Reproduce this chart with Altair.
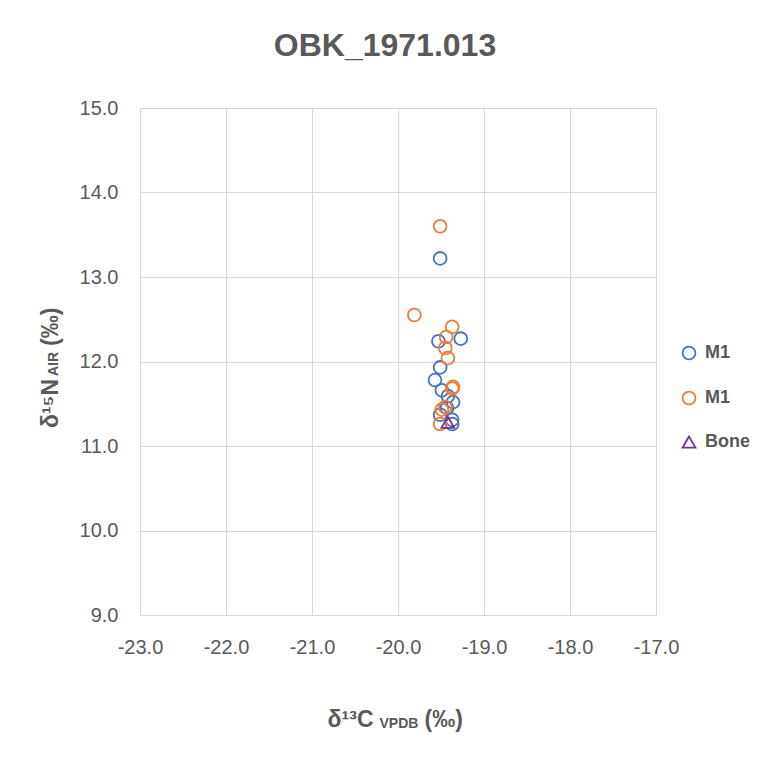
import altair as alt
import pandas as pd

# ---- data ----
m1_blue_x = [-19.51, -19.53, -19.27, -19.51, -19.57, -19.49, -19.42, -19.36, -19.43, -19.51, -19.37, -19.37]
m1_blue_y = [13.22, 12.24, 12.27, 11.93, 11.78, 11.66, 11.59, 11.52, 11.45, 11.37, 11.31, 11.26]
m1_orange_x = [-19.51, -19.81, -19.37, -19.44, -19.45, -19.42, -19.36, -19.37, -19.45, -19.49, -19.51]
m1_orange_y = [13.60, 12.55, 12.41, 12.29, 12.16, 12.04, 11.70, 11.68, 11.46, 11.43, 11.26]
bone_x = [-19.42]
bone_y = [11.28]

series_names = ["M1", "M1 ", "Bone"]
series_colors = ["#4472C4", "#ED7D31", "#7030A0"]
series_shapes = ["circle", "circle", "triangle-up"]
x_ticks = [-23, -22, -21, -20, -19, -18, -17]
y_ticks = [9, 10, 11, 12, 13, 14, 15]

rows = []
for xs, ys, name in [(m1_blue_x, m1_blue_y, series_names[0]),
                     (m1_orange_x, m1_orange_y, series_names[1]),
                     (bone_x, bone_y, series_names[2])]:
    for a, b in zip(xs, ys):
        rows.append({"d13C": a, "d15N": b, "series": name})
df = pd.DataFrame(rows)

FONT = "Liberation Sans"
GRAY = "#595959"
GRID = "#D9D9D9"

points = alt.Chart(df).mark_point(filled=False, size=165, strokeWidth=1.8, opacity=1).encode(
    x=alt.X("d13C:Q",
            scale=alt.Scale(domain=[-23, -17], nice=False, zero=False),
            axis=alt.Axis(values=x_ticks, title=None, grid=True, gridColor=GRID,
                          domainColor=GRID, ticks=False, labelFont=FONT, labelFontSize=20,
                          labelColor=GRAY, labelPadding=22, labelFlush=False,
                          labelOverlap=False,
                          labelExpr="replace(format(datum.value, '.1f'), '\u2212', '-')")),
    y=alt.Y("d15N:Q",
            scale=alt.Scale(domain=[9, 15], nice=False, zero=False),
            axis=alt.Axis(values=y_ticks, title=None, grid=True, gridColor=GRID,
                          domainColor=GRID, ticks=False, labelFont=FONT, labelFontSize=20,
                          labelColor=GRAY, labelPadding=22, format=".1f",
                          labelFlush=False, labelOverlap=False)),
    color=alt.Color("series:N", scale=alt.Scale(domain=series_names, range=series_colors),
                    legend=alt.Legend(title=None, orient="none", legendX=540, legendY=236,
                                      labelFont=FONT, labelFontSize=18, labelFontWeight="bold",
                                      labelColor=GRAY, symbolSize=165, symbolStrokeWidth=1.8,
                                      rowPadding=23, labelOffset=7)),
    shape=alt.Shape("series:N", scale=alt.Scale(domain=series_names, range=series_shapes)),
)

one = alt.Data(values=[{}])

def txt(text, x, y, size, align="left", angle=0):
    return alt.Chart(one).mark_text(text=text, font=FONT, fontSize=size, fontWeight="bold",
                                    color=GRAY, align=align, baseline="alphabetic",
                                    angle=angle).encode(x=alt.value(x), y=alt.value(y))

x_title = [
    txt("δ¹³C", 233.5, 619, 23, align="right"),
    txt("VPDB", 239.5, 620, 14),
    txt("(‰)", 284.5, 619, 23),
]
y_title = [
    txt("δ¹⁵N", -82, 320, 23, angle=270),
    txt("AIR", -82, 268, 14, angle=270),
    txt("(‰)", -82, 238, 23, angle=270),
]

chart = alt.layer(points, *x_title, *y_title).properties(
    width=516, height=507,
    title=alt.TitleParams("OBK_1971.013", font=FONT, fontSize=32, fontWeight="bold",
                          color=GRAY, anchor="middle", dx=-13, offset=35),
    autosize=alt.AutoSizeParams(type="none"),
    padding={"left": 132, "top": 100, "right": 100, "bottom": 140},
).configure_view(stroke=None).configure(background="white")

chart.save("out.html", embed_options={"renderer": "svg", "actions": False})
